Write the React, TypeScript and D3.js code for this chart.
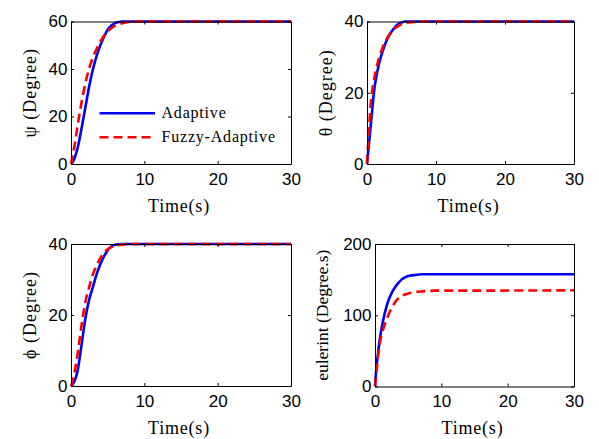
import React, { useEffect, useRef } from 'react';
import * as d3 from 'd3';

// ---- data ----
const time = [0, 0.25, 0.5, 0.75, 1, 1.5, 2, 2.5, 3, 3.5, 4, 4.5, 5, 5.5, 6, 7, 8, 9, 10, 30];

const psiAdaptive = [0, 0.8, 2.5, 5, 8, 16, 24.5, 33, 40, 45.5, 50, 53.5, 56.5, 58.3, 59.3, 60, 60, 60, 60, 60];
const psiFuzzy = [0, 4, 8, 13, 18, 27, 34.5, 40.5, 45, 48.5, 51.5, 54, 55.8, 57.2, 58.2, 59.3, 59.8, 60, 60, 60];

const thetaAdaptive = [0, 5, 10, 15, 20, 26, 30, 33, 35.3, 37, 38.3, 39.2, 39.7, 40, 40, 40, 40, 40, 40, 40];
const thetaFuzzy = [0, 8, 16, 20.5, 23.5, 28, 31.3, 33.8, 35.6, 37, 38, 38.7, 39.2, 39.5, 39.7, 39.9, 40, 40, 40, 40];

const phiAdaptive = [0, 0.5, 1.5, 3, 5.5, 12.5, 19.5, 24.5, 28, 31.5, 34.3, 36.5, 38.2, 39.3, 39.8, 40, 40, 40, 40, 40];
const phiFuzzy = [0, 1.5, 4, 7, 10.5, 18, 24, 28, 31.5, 34, 36, 37.5, 38.5, 39.1, 39.5, 39.8, 40, 40, 40, 40];

const eulAdaptive = [0, 30, 50, 68, 82, 104, 120, 131, 139, 145, 150, 153, 155, 156, 156.5, 157.5, 157.5, 157.5, 157.5, 157.5];
const eulFuzzy = [0, 25, 45, 62, 73, 88, 100, 110, 118, 123.5, 127, 129, 130.5, 131.5, 132.5, 133.5, 134, 134.5, 134.5, 135];

const xTicks = [0, 10, 20, 30];
const psiTicks = [0, 20, 40, 60];
const angTicks = [0, 20, 40];
const eulTicks = [0, 100, 200];

const seriesNames = ['Adaptive', 'Fuzzy-Adaptive'];
const yLabels = ['ψ (Degree)', 'θ (Degree)', 'ϕ (Degree)', 'eulerint (Degree.s)'];
const xLabel = 'Time(s)';

// ---- layout ----
const W = 599;
const H = 439;
const BLUE = '#0000ff';
const RED = '#ff0000';

const panels = [
  { yLabel: yLabels[0], yMax: 60, yTicks: psiTicks, a: psiAdaptive, f: psiFuzzy, x0: 71, y0: 21.5, x1: 291, y1: 164, legend: true, labelOff: 35, labelSize: 18, labelSpacing: 1 },
  { yLabel: yLabels[1], yMax: 40, yTicks: angTicks, a: thetaAdaptive, f: thetaFuzzy, x0: 367, y0: 21.5, x1: 574, y1: 164, legend: false, labelOff: 35, labelSize: 18, labelSpacing: 1 },
  { yLabel: yLabels[2], yMax: 40, yTicks: angTicks, a: phiAdaptive, f: phiFuzzy, x0: 71, y0: 244, x1: 291, y1: 386, legend: false, labelOff: 35, labelSize: 18, labelSpacing: 1 },
  { yLabel: yLabels[3], yMax: 200, yTicks: eulTicks, a: eulAdaptive, f: eulFuzzy, x0: 375, y0: 244, x1: 574, y1: 386.5, legend: false, labelOff: 47, labelSize: 17.5, labelSpacing: 0 },
];

export default function App() {
  const ref = useRef<SVGSVGElement | null>(null);

  useEffect(() => {
    const svg = d3.select(ref.current);
    svg.selectAll('*').remove();

    panels.forEach((p) => {
      const x = d3.scaleLinear().domain([0, 30]).range([p.x0, p.x1]);
      const y = d3.scaleLinear().domain([0, p.yMax]).range([p.y1, p.y0]);
      const g = svg.append('g');

      // lines
      const line = d3
        .line<number>()
        .x((_, i) => x(time[i]))
        .y((d) => y(d))
        .curve(d3.curveMonotoneX);

      const clipId = `clip-${p.x0}-${p.y0}`;
      svg
        .append('clipPath')
        .attr('id', clipId)
        .append('rect')
        .attr('x', p.x0 - 2)
        .attr('y', p.y0 - 2)
        .attr('width', p.x1 - p.x0 + 2)
        .attr('height', p.y1 - p.y0 + 2);

      const lg = g.append('g').attr('clip-path', `url(#${clipId})`);
      lg.append('path')
        .attr('d', line(p.a) as string)
        .attr('fill', 'none')
        .attr('stroke', BLUE)
        .attr('stroke-width', 2.6);
      lg.append('path')
        .attr('d', line(p.f) as string)
        .attr('fill', 'none')
        .attr('stroke', RED)
        .attr('stroke-width', 2.6)
        .attr('stroke-dasharray', '9,5');

      // axes
      const styleAxis = (sel: d3.Selection<SVGGElement, unknown, null, undefined>) => {
        sel.select('.domain').attr('stroke', '#000').attr('stroke-width', 1);
        sel.selectAll('.tick line').attr('stroke', '#000').attr('stroke-width', 1);
        sel
          .selectAll('.tick text')
          .attr('fill', '#000')
          .attr('font-family', '"Liberation Sans", Arial, sans-serif')
          .attr('font-size', 17);
      };

      const bottom = g
        .append('g')
        .attr('transform', `translate(0,${p.y1})`)
        .call(d3.axisBottom(x).tickValues(xTicks).tickSize(-3).tickSizeOuter(0).tickPadding(8.5).tickFormat(d3.format('d')));
      bottom.attr('font-size', null).attr('font-family', null);
      styleAxis(bottom as any);

      const top = g
        .append('g')
        .attr('transform', `translate(0,${p.y0})`)
        .call(d3.axisTop(x).tickValues(xTicks).tickSize(-3).tickSizeOuter(0).tickFormat(() => ''));
      styleAxis(top as any);

      const left = g
        .append('g')
        .attr('transform', `translate(${p.x0},0)`)
        .call(d3.axisLeft(y).tickValues(p.yTicks).tickSize(-3).tickSizeOuter(0).tickPadding(3.5).tickFormat(d3.format('d')));
      left.attr('font-size', null).attr('font-family', null);
      styleAxis(left as any);

      const right = g
        .append('g')
        .attr('transform', `translate(${p.x1},0)`)
        .call(d3.axisRight(y).tickValues(p.yTicks).tickSize(-3).tickSizeOuter(0).tickFormat(() => ''));
      styleAxis(right as any);

      // axis labels
      g.append('text')
        .attr('x', (p.x0 + p.x1) / 2 - 2)
        .attr('y', p.y1 + 47.5)
        .attr('text-anchor', 'middle')
        .attr('font-family', '"Liberation Serif", "Times New Roman", serif')
        .attr('font-size', 18)
        .attr('letter-spacing', 0.8)
        .attr('fill', '#000')
        .text(xLabel);

      g.append('text')
        .attr('transform', `translate(${p.x0 - p.labelOff},${(p.y0 + p.y1) / 2}) rotate(-90)`)
        .attr('text-anchor', 'middle')
        .attr('font-family', '"Liberation Serif", "Times New Roman", serif')
        .attr('font-size', p.labelSize)
        .attr('letter-spacing', p.labelSpacing)
        .attr('fill', '#000')
        .text(p.yLabel);

      if (p.legend) {
        const items = [
          { name: seriesNames[0], color: BLUE, dash: null as string | null, yy: 113.3 },
          { name: seriesNames[1], color: RED, dash: '9,5', yy: 137.3 },
        ];
        items.forEach((it) => {
          const l = g
            .append('line')
            .attr('x1', 99.5)
            .attr('x2', 155)
            .attr('y1', it.yy)
            .attr('y2', it.yy)
            .attr('stroke', it.color)
            .attr('stroke-width', 2.6);
          if (it.dash) l.attr('stroke-dasharray', it.dash);
          g.append('text')
            .attr('x', 161.5)
            .attr('y', it.yy + 5)
            .attr('font-family', '"Liberation Serif", "Times New Roman", serif')
            .attr('font-size', 16)
            .attr('letter-spacing', 0.8)
            .attr('fill', '#000')
            .text(it.name);
        });
      }
    });
  }, []);

  return (
    <svg
      ref={ref}
      width={W}
      height={H}
      style={{ position: 'absolute', left: 0, top: 0, background: '#fff' }}
    />
  );
}
